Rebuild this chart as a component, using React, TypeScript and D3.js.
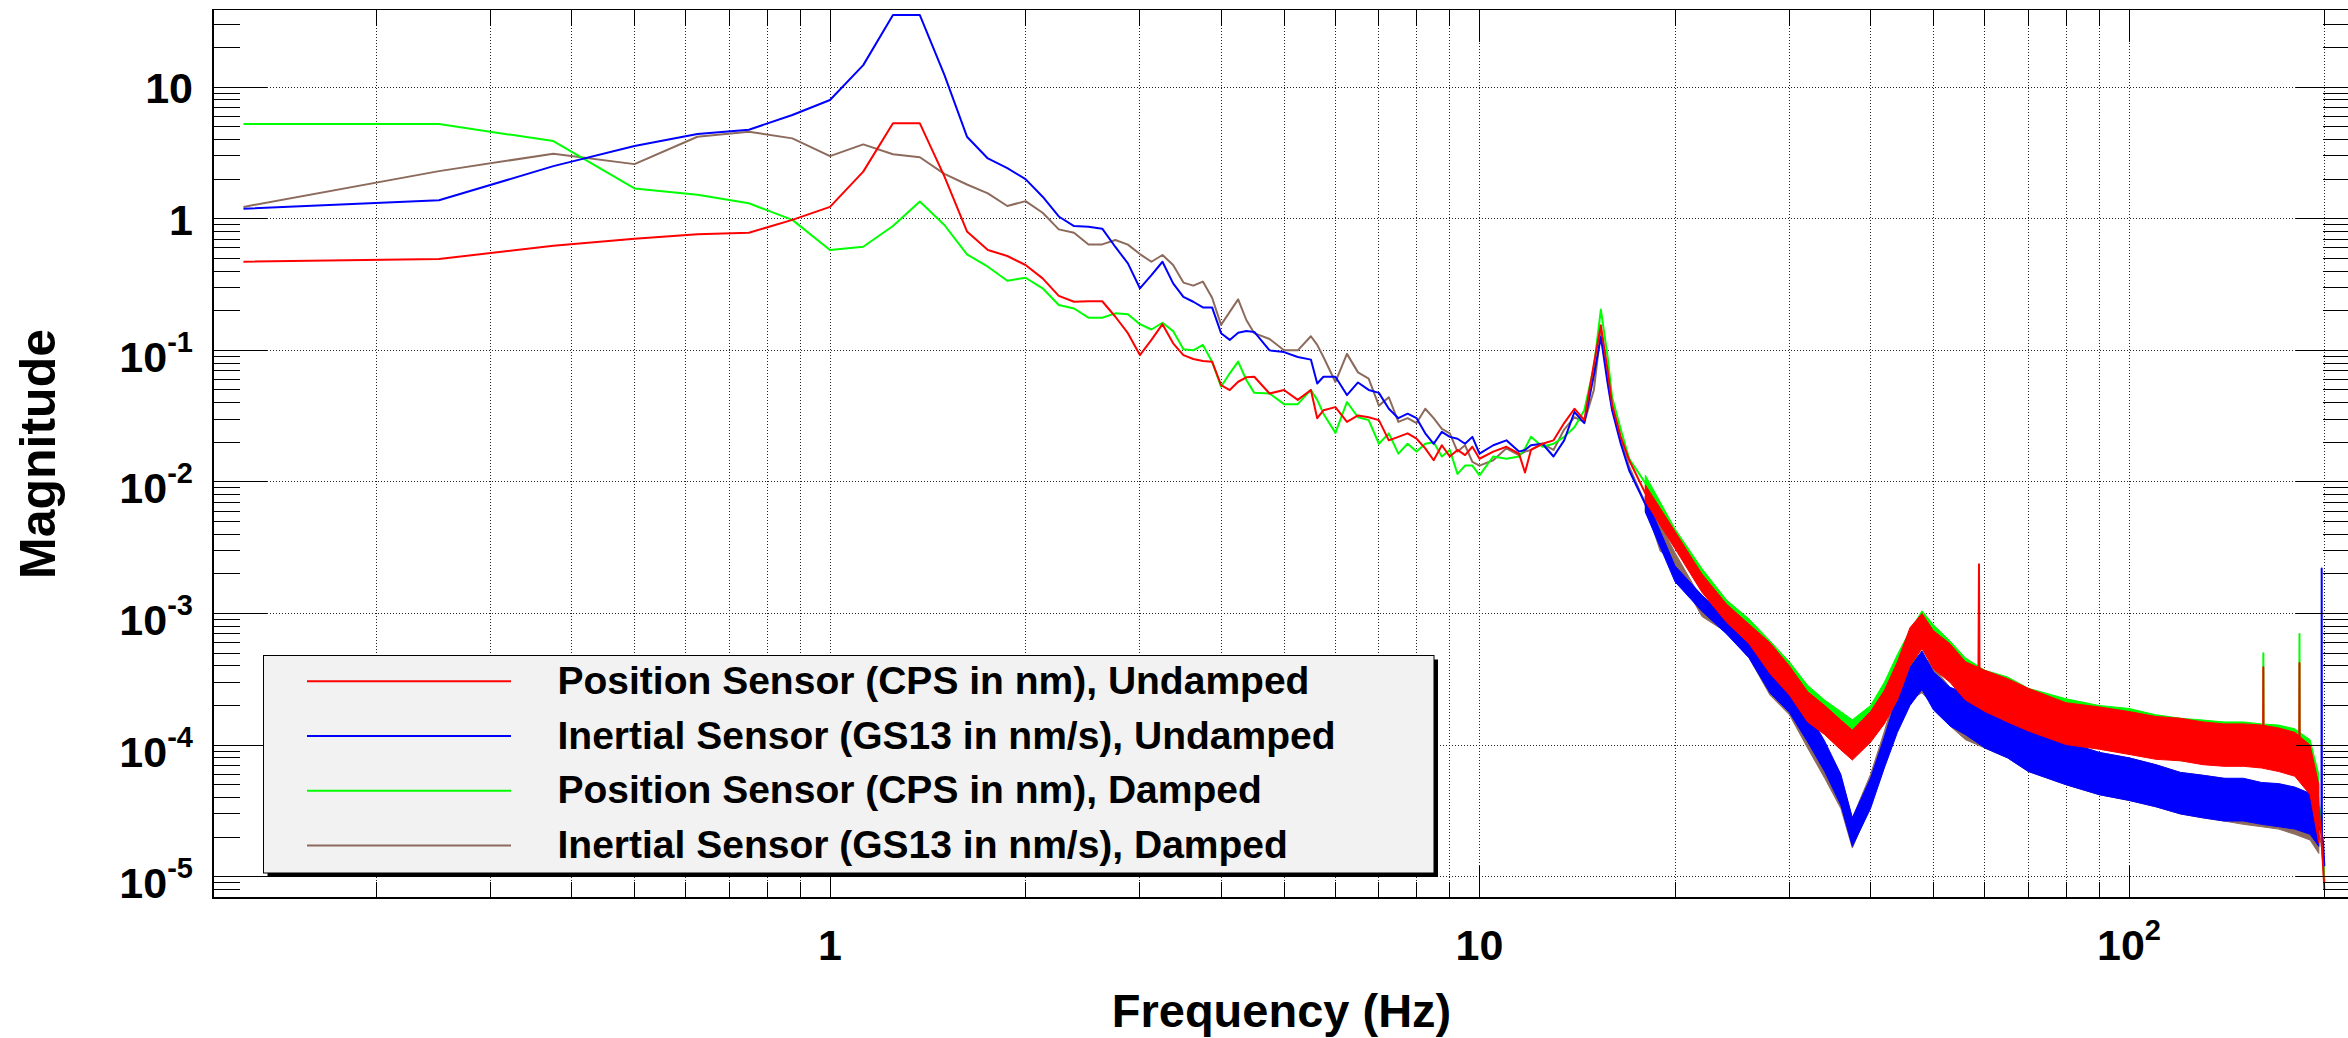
import React from 'react';
import * as d3 from 'd3';

// frequency bins (Hz) shared by the four spectra
const freq = [
  0.125, 0.25, 0.375, 0.5, 0.625, 0.75, 0.875, 1, 1.125, 1.25, 1.375, 1.5, 1.625, 1.75, 1.875, 2, 2.125, 2.25, 2.375, 2.5, 2.625, 2.75, 2.875, 3, 3.125, 3.25, 3.375, 3.5, 3.625, 3.75, 3.875, 4, 4.125, 4.25, 4.375,
  4.5, 4.75, 5, 5.25, 5.5, 5.625, 5.75, 6, 6.25, 6.5, 6.75, 7, 7.25, 7.5, 7.75, 8, 8.25, 8.5, 8.75, 9, 9.25, 9.5, 9.75, 10, 10.5, 11, 11.5, 11.75, 12, 12.5, 13, 13.5, 14, 14.5, 15, 15.375, 15.75, 16, 16.5, 17,
  18, 19, 20, 22, 24, 26, 28, 30, 32, 34, 36, 37, 37.5, 38, 40, 42, 44, 46, 48, 50, 53, 56, 58.625, 58.75, 58.875, 60, 65, 70, 80, 90, 100, 110, 120, 130, 140, 150, 160, 160.875, 161, 161.125, 170, 180, 182.875, 183, 183.125, 190, 195, 197.875, 198, 198.125, 199, 199.875,
];

const cpsUndamped = [
  0.471, 0.494, 0.624, 0.705, 0.761, 0.783, 0.98, 1.23, 2.28, 5.31, 5.31, 2.1, 0.8, 0.578, 0.521, 0.445, 0.352, 0.259, 0.234, 0.236, 0.236, 0.18, 0.135, 0.092, 0.12, 0.158, 0.113, 0.092, 0.086, 0.083, 0.082, 0.0545, 0.0499, 0.0577, 0.0623,
  0.063, 0.047, 0.05, 0.042, 0.05, 0.0305, 0.035, 0.037, 0.0286, 0.032, 0.031, 0.0295, 0.0207, 0.022, 0.0234, 0.0213, 0.018, 0.0146, 0.019, 0.0156, 0.0175, 0.016, 0.0185, 0.015, 0.017, 0.0185, 0.0164, 0.0118, 0.0175, 0.0195, 0.0207, 0.028, 0.036, 0.0295, 0.079, 0.155, 0.07, 0.039, 0.022, 0.0146,
  0.0082, 0.0052, 0.0036, 0.0017, 0.00101, 0.0007, 4.6e-4, 3.1e-4, 1.96e-4, 1.56e-4, 1.2e-4, 1.05e-4, 1.0e-4, 1.2e-4, 1.38e-4, 1.96e-4, 3.1e-4, 5.6e-4, 7.5e-4, 5.3e-4, 4.2e-4, 3.1e-4, 2.9e-4, 2.37e-3, 2.8e-4, 2.6e-4, 2.2e-4, 1.85e-4, 1.47e-4, 1.35e-4, 1.23e-4, 1.13e-4, 1.1e-4, 1.03e-4, 1.0e-4, 1.0e-4, 9.8e-5, 9.8e-5, 3.9e-4, 9.5e-5, 9.2e-5, 8.5e-5, 8.2e-5, 4.2e-4, 8.2e-5, 7e-5, 4e-5, 2e-5, 1.8e-5, 1.7e-5, 1.2e-5, 8e-6,
];

const gs13Undamped = [
  1.19, 1.38, 2.51, 3.57, 4.4, 4.75, 6.14, 7.98, 14.7, 35.3, 35.3, 12.4, 4.2, 2.87, 2.42, 2.0, 1.47, 1.04, 0.88, 0.87, 0.84, 0.61, 0.458, 0.296, 0.373, 0.471, 0.323, 0.255, 0.234, 0.212, 0.212, 0.135, 0.12, 0.136, 0.14,
  0.138, 0.1, 0.097, 0.089, 0.085, 0.056, 0.063, 0.063, 0.0457, 0.057, 0.05, 0.0475, 0.036, 0.0305, 0.033, 0.0305, 0.0234, 0.0195, 0.024, 0.022, 0.0213, 0.0195, 0.022, 0.0164, 0.019, 0.0207, 0.017, 0.0175, 0.019, 0.0195, 0.0156, 0.0207, 0.034, 0.028, 0.065, 0.126, 0.056, 0.035, 0.0195, 0.0122,
  0.0068, 0.0036, 0.002, 0.0012, 0.0008, 0.00053, 3.2e-4, 2.3e-4, 1.38e-4, 8.2e-5, 4.6e-5, 2.6e-5, 2.15e-5, 2.6e-5, 4.3e-5, 8.7e-5, 1.75e-4, 2.78e-4, 3.7e-4, 2.6e-4, 1.96e-4, 1.75e-4, 1.56e-4, 3.6e-4, 1.5e-4, 1.38e-4, 1.16e-4, 9.2e-5, 7.3e-5, 6.1e-5, 5.5e-5, 4.9e-5, 4.3e-5, 4.1e-5, 3.85e-5, 3.85e-5, 3.6e-5, 3.6e-5, 3.6e-5, 3.6e-5, 3.5e-5, 3.3e-5, 3.2e-5, 3.2e-5, 3.2e-5, 3e-5, 2.5e-5, 2.2e-5, 2.2e-3, 2.1e-5, 1.8e-5, 1.2e-5,
];

const cpsDamped = [
  5.24, 5.24, 3.89, 1.7, 1.52, 1.31, 0.98, 0.578, 0.612, 0.88, 1.35, 0.896, 0.536, 0.432, 0.338, 0.356, 0.296, 0.221, 0.208, 0.177, 0.177, 0.191, 0.188, 0.158, 0.144, 0.162, 0.14, 0.102, 0.1, 0.11, 0.082, 0.0529, 0.0669, 0.082, 0.0595,
  0.0475, 0.047, 0.039, 0.039, 0.05, 0.042, 0.033, 0.0236, 0.0405, 0.031, 0.0295, 0.0195, 0.0234, 0.0164, 0.0195, 0.017, 0.0195, 0.02, 0.0156, 0.0175, 0.0115, 0.0133, 0.0133, 0.0112, 0.0156, 0.015, 0.0156, 0.018, 0.022, 0.0185, 0.0195, 0.022, 0.026, 0.035, 0.075, 0.204, 0.089, 0.044, 0.025, 0.015,
  0.0098, 0.0054, 0.0038, 0.0019, 0.0011, 0.00079, 4.8e-4, 3.3e-4, 2.2e-4, 1.7e-4, 1.38e-4, 1.23e-4, 1.2e-4, 1.3e-4, 1.56e-4, 2.34e-4, 3.5e-4, 5.3e-4, 7.9e-4, 5.9e-4, 4.4e-4, 3.3e-4, 3.1e-4, 3.2e-4, 3.0e-4, 2.6e-4, 2.27e-4, 1.85e-4, 1.56e-4, 1.38e-4, 1.31e-4, 1.16e-4, 1.1e-4, 1.07e-4, 1.03e-4, 1.03e-4, 1.0e-4, 1.0e-4, 5.0e-4, 1.0e-4, 9.8e-5, 9.2e-5, 9e-5, 7.0e-4, 9e-5, 7.5e-5, 4.5e-5, 2.5e-5, 2.3e-5, 2.2e-5, 1.5e-5, 9e-6,
];

const gs13Damped = [
  1.23, 2.3, 3.12, 2.6, 4.2, 4.58, 4.08, 2.99, 3.67, 3.09, 2.93, 2.19, 1.82, 1.56, 1.25, 1.36, 1.11, 0.83, 0.783, 0.638, 0.638, 0.689, 0.636, 0.539, 0.471, 0.53, 0.445, 0.327, 0.31, 0.333, 0.251, 0.156, 0.196, 0.244, 0.17,
  0.135, 0.122, 0.1, 0.1, 0.128, 0.11, 0.089, 0.0575, 0.094, 0.068, 0.061, 0.038, 0.044, 0.0286, 0.0305, 0.028, 0.036, 0.0305, 0.0253, 0.0234, 0.017, 0.019, 0.0142, 0.0133, 0.0146, 0.018, 0.016, 0.017, 0.0175, 0.0195, 0.0175, 0.025, 0.031, 0.0286, 0.05, 0.142, 0.059, 0.037, 0.0207, 0.013,
  0.0068, 0.003, 0.0025, 0.0011, 0.00083, 0.00053, 3.1e-4, 2.2e-4, 1.23e-4, 7.3e-5, 4.3e-5, 2.7e-5, 2.15e-5, 2.4e-5, 4.6e-5, 9.8e-5, 1.96e-4, 3.1e-4, 3.5e-4, 2.8e-4, 1.96e-4, 1.56e-4, 1.42e-4, 1.42e-4, 1.4e-4, 1.38e-4, 1.16e-4, 9.2e-5, 7.3e-5, 6.1e-5, 5.5e-5, 4.9e-5, 4.3e-5, 4.1e-5, 3.85e-5, 3.6e-5, 3.5e-5, 3.5e-5, 3.5e-5, 3.5e-5, 3.3e-5, 3.1e-5, 3.0e-5, 3.0e-5, 3.0e-5, 2.7e-5, 2.2e-5, 1.8e-5, 1.7e-5, 1.7e-5, 1.3e-5, 9e-6,
];

// spread of the noisy high-frequency part (upper / lower edge of each trace)
const bandFreq = [18, 20, 22, 24, 26, 28, 30, 32, 34, 36, 37.5, 40, 42, 44, 46, 48, 50, 53, 56, 60, 65, 70, 80, 90, 100, 110, 120, 130, 140, 150, 160, 170, 180, 190, 196];

const cpsUndampedHi = [0.0095, 0.0042, 0.002, 0.00118, 8.3e-4, 6.0e-4, 4.0e-4, 2.55e-4, 2.0e-4, 1.55e-4, 1.3e-4, 1.8e-4, 2.6e-4, 4.3e-4, 7.8e-4, 1.0e-3, 7.4e-4, 5.9e-4, 4.3e-4, 3.7e-4, 3.2e-4, 2.7e-4, 2.1e-4, 1.95e-4, 1.8e-4, 1.65e-4, 1.6e-4, 1.5e-4, 1.45e-4, 1.45e-4, 1.42e-4, 1.35e-4, 1.25e-4, 1.0e-4, 5e-5];
const cpsUndampedLo = [0.0071, 0.0031, 0.00145, 8.6e-4, 5.9e-4, 3.5e-4, 2.4e-4, 1.5e-4, 1.2e-4, 9.2e-5, 7.7e-5, 1.05e-4, 1.45e-4, 2.2e-4, 4.0e-4, 5.4e-4, 3.8e-4, 3.0e-4, 2.2e-4, 1.8e-4, 1.5e-4, 1.28e-4, 1.01e-4, 9.3e-5, 8.5e-5, 7.8e-5, 7.6e-5, 7.1e-5, 6.9e-5, 6.9e-5, 6.7e-5, 6.3e-5, 5.8e-5, 4.2e-5, 1.8e-5];

const gs13UndampedHi = [0.0078, 0.0023, 0.00138, 9.2e-4, 6.1e-4, 4.1e-4, 3.0e-4, 1.8e-4, 1.07e-4, 6.0e-5, 2.8e-5, 5.6e-5, 1.15e-4, 2.4e-4, 3.9e-4, 5.2e-4, 3.6e-4, 2.75e-4, 2.5e-4, 2.0e-4, 1.7e-4, 1.33e-4, 1.06e-4, 8.8e-5, 8.0e-5, 7.1e-5, 6.2e-5, 5.9e-5, 5.6e-5, 5.6e-5, 5.2e-5, 5.1e-5, 4.8e-5, 4.3e-5, 3.4e-5];
const gs13UndampedLo = [0.0059, 0.00174, 0.00104, 7.0e-4, 4.6e-4, 2.5e-4, 1.77e-4, 1.06e-4, 6.3e-5, 3.5e-5, 1.7e-5, 3.3e-5, 6.7e-5, 1.25e-4, 2.0e-4, 2.65e-4, 1.85e-4, 1.4e-4, 1.2e-4, 9.5e-5, 8.0e-5, 6.3e-5, 5.0e-5, 4.2e-5, 3.8e-5, 3.4e-5, 3.0e-5, 2.8e-5, 2.65e-5, 2.65e-5, 2.5e-5, 2.4e-5, 2.3e-5, 2.1e-5, 1.7e-5];

const cpsDampedHi = [0.0113, 0.0044, 0.0022, 0.00127, 9.1e-4, 6.2e-4, 4.3e-4, 2.85e-4, 2.2e-4, 1.8e-4, 1.56e-4, 2.0e-4, 3.0e-4, 4.9e-4, 7.4e-4, 1.05e-3, 8.2e-4, 6.2e-4, 4.6e-4, 3.7e-4, 3.3e-4, 2.7e-4, 2.25e-4, 2.0e-4, 1.9e-4, 1.7e-4, 1.6e-4, 1.55e-4, 1.5e-4, 1.5e-4, 1.45e-4, 1.42e-4, 1.33e-4, 1.1e-4, 6e-5];
const cpsDampedLo = [0.0085, 0.0033, 0.00165, 9.6e-4, 6.9e-4, 3.7e-4, 2.5e-4, 1.7e-4, 1.3e-4, 1.06e-4, 9.2e-5, 1.2e-4, 1.8e-4, 2.5e-4, 3.8e-4, 5.6e-4, 4.2e-4, 3.1e-4, 2.35e-4, 1.8e-4, 1.56e-4, 1.28e-4, 1.08e-4, 9.5e-5, 9.0e-5, 8.0e-5, 7.6e-5, 7.4e-5, 7.1e-5, 7.1e-5, 6.9e-5, 6.8e-5, 6.3e-5, 5.2e-5, 2.5e-5];

const gs13DampedHi = [0.0078, 0.0029, 0.00127, 9.5e-4, 6.1e-4, 4.0e-4, 2.85e-4, 1.6e-4, 9.5e-5, 5.6e-5, 2.8e-5, 6.0e-5, 1.27e-4, 2.7e-4, 4.3e-4, 4.9e-4, 3.9e-4, 2.75e-4, 2.2e-4, 2.0e-4, 1.7e-4, 1.33e-4, 1.06e-4, 8.8e-5, 8.0e-5, 7.1e-5, 6.2e-5, 5.9e-5, 5.6e-5, 5.2e-5, 5.1e-5, 4.8e-5, 4.5e-5, 3.9e-5, 3.0e-5];
const gs13DampedLo = [0.0059, 0.0022, 0.00095, 7.2e-4, 4.6e-4, 2.4e-4, 1.7e-4, 9.5e-5, 5.6e-5, 3.3e-5, 1.65e-5, 3.5e-5, 7.5e-5, 1.4e-4, 2.2e-4, 2.5e-4, 2.0e-4, 1.4e-4, 1.1e-4, 9.5e-5, 8.0e-5, 6.3e-5, 5.0e-5, 4.2e-5, 3.8e-5, 3.4e-5, 3.0e-5, 2.8e-5, 2.65e-5, 2.5e-5, 2.4e-5, 2.3e-5, 2.1e-5, 1.9e-5, 1.5e-5];

const legendLabels = [
  'Position Sensor (CPS in nm), Undamped',
  'Inertial Sensor (GS13 in nm/s), Undamped',
  'Position Sensor (CPS in nm), Damped',
  'Inertial Sensor (GS13 in nm/s), Damped',
];

const xLimits = [0.1122, 218.9];
const yLimits = [6.89e-6, 38.9];

const font = "'Liberation Sans', Arial, Helvetica, sans-serif";

function App() {
  const width = 2348;
  const height = 1038;
  const plot = { left: 213, top: 9.5, right: 2350, bottom: 898 };

  const xScale = d3.scaleLog().domain(xLimits).range([plot.left, plot.right]);
  const yScale = d3.scaleLog().domain(yLimits).range([plot.bottom, plot.top]);

  const series = [
    { label: legendLabels[0], color: '#ff0000', values: cpsUndamped, hi: cpsUndampedHi, lo: cpsUndampedLo },
    { label: legendLabels[1], color: '#0000ff', values: gs13Undamped, hi: gs13UndampedHi, lo: gs13UndampedLo },
    { label: legendLabels[2], color: '#00ff00', values: cpsDamped, hi: cpsDampedHi, lo: cpsDampedLo },
    { label: legendLabels[3], color: '#8c6b5d', values: gs13Damped, hi: gs13DampedHi, lo: gs13DampedLo },
  ];
  // draw damped under undamped, brown lowest, red on top
  const drawOrder = [3, 2, 1, 0];

  const line = (values: number[]) =>
    d3
      .line<number>()
      .x((_, i) => xScale(freq[i]))
      .y((v) => yScale(v))(values);

  const band = (hi: number[], lo: number[]) =>
    d3
      .area<number>()
      .x((_, i) => xScale(bandFreq[i]))
      .y0((_, i) => yScale(lo[i]))
      .y1((v) => yScale(v))(hi);

  // log ticks
  const xTicks: { v: number; major: boolean }[] = [];
  for (let d = -1; d <= 2; d++) {
    for (let k = 1; k <= 9; k++) {
      const v = k * Math.pow(10, d);
      if (v >= xLimits[0] && v <= xLimits[1]) xTicks.push({ v, major: k === 1 });
    }
  }
  const yTicks: { v: number; major: boolean; exp: number }[] = [];
  for (let d = -6; d <= 1; d++) {
    for (let k = 1; k <= 9; k++) {
      const v = k * Math.pow(10, d);
      if (v >= yLimits[0] && v <= yLimits[1]) yTicks.push({ v, major: k === 1, exp: d });
    }
  }

  const tickLabel = (exp: number) => {
    if (exp === 0) return <tspan>1</tspan>;
    if (exp === 1) return <tspan>10</tspan>;
    return (
      <>
        <tspan>10</tspan>
        <tspan dy={-20} fontSize={29}>
          {exp}
        </tspan>
      </>
    );
  };

  const legend = { x: 263.5, y: 655.5, w: 1170.5, h: 217.5 };
  const rowY = (i: number) => 681.3 + i * 54.7;

  return (
    <svg
      width={width}
      height={height}
      viewBox={`0 0 ${width} ${height}`}
      style={{ position: 'absolute', left: 0, top: 0, background: '#fff' }}
      fontFamily={font}
      fontWeight="bold"
    >
      <defs>
        <clipPath id="plot-clip">
          <rect x={plot.left} y={plot.top} width={plot.right - plot.left} height={plot.bottom - plot.top} />
        </clipPath>
      </defs>

      <g className="grid" stroke="#222" strokeWidth={1} strokeDasharray="1 2" shapeRendering="crispEdges">
        {xTicks.map((t) => (
          <line key={`gx${t.v}`} x1={xScale(t.v)} x2={xScale(t.v)} y1={plot.top} y2={plot.bottom} />
        ))}
        {yTicks
          .filter((t) => t.major)
          .map((t) => (
            <line key={`gy${t.v}`} x1={plot.left} x2={plot.right} y1={yScale(t.v)} y2={yScale(t.v)} />
          ))}
      </g>

      <g className="vis" clipPath="url(#plot-clip)">
        {drawOrder.map((i) => {
          const s = series[i];
          return (
            <g key={s.label}>
              <path d={band(s.hi, s.lo) ?? ''} fill={s.color} stroke={s.color} strokeWidth={1} />
              <path d={line(s.values) ?? ''} fill="none" stroke={s.color} strokeWidth={2} strokeLinejoin="round" />
            </g>
          );
        })}
      </g>

      <g className="axes" stroke="#000" shapeRendering="crispEdges">
        {xTicks.map((t) => {
          const len = t.major ? 32 : 16;
          const x = xScale(t.v);
          return (
            <g key={`tx${t.v}`} strokeWidth={1}>
              <line x1={x} x2={x} y1={plot.bottom} y2={plot.bottom - len} />
              <line x1={x} x2={x} y1={plot.top} y2={plot.top + len} />
            </g>
          );
        })}
        {yTicks.map((t) => {
          const len = t.major ? 54 : 27;
          const y = yScale(t.v);
          return (
            <g key={`ty${t.v}`} strokeWidth={1}>
              <line x1={plot.left} x2={plot.left + len} y1={y} y2={y} />
              <line x1={plot.right} x2={plot.right - len} y1={y} y2={y} />
            </g>
          );
        })}
        <rect
          x={plot.left}
          y={plot.top}
          width={plot.right - plot.left}
          height={plot.bottom - plot.top}
          fill="none"
          strokeWidth={1.5}
        />
      </g>

      <g className="tick-labels" fontSize={43} fill="#000">
        {yTicks
          .filter((t) => t.major)
          .map((t) => (
            <text key={`ly${t.v}`} x={193} y={yScale(t.v) + (t.exp === 0 || t.exp === 1 ? 16 : 21.5)} textAnchor="end">
              {tickLabel(t.exp)}
            </text>
          ))}
        {xTicks
          .filter((t) => t.major)
          .map((t) => {
            const exp = Math.round(Math.log10(t.v));
            return (
              <text key={`lx${t.v}`} x={xScale(t.v)} y={960} textAnchor="middle">
                {tickLabel(exp)}
              </text>
            );
          })}
      </g>

      <text x={(plot.left + plot.right) / 2} y={1026.7} textAnchor="middle" fontSize={47}>
        Frequency (Hz)
      </text>
      <text transform="translate(55 454) rotate(-90)" textAnchor="middle" fontSize={50}>
        Magnitude
      </text>

      <g className="legend">
        <rect x={legend.x + 4} y={legend.y + 4} width={legend.w} height={legend.h} fill="#000" />
        <rect x={legend.x} y={legend.y} width={legend.w} height={legend.h} fill="#f2f2f2" stroke="#000" strokeWidth={1} />
        {series.map((s, i) => (
          <g key={`lg${i}`}>
            <line x1={307} x2={511} y1={rowY(i)} y2={rowY(i)} stroke={s.color} strokeWidth={2} />
            <text x={557.5} y={rowY(i) + 12.5} fontSize={39}>
              {s.label}
            </text>
          </g>
        ))}
      </g>
    </svg>
  );
}

export default App;
